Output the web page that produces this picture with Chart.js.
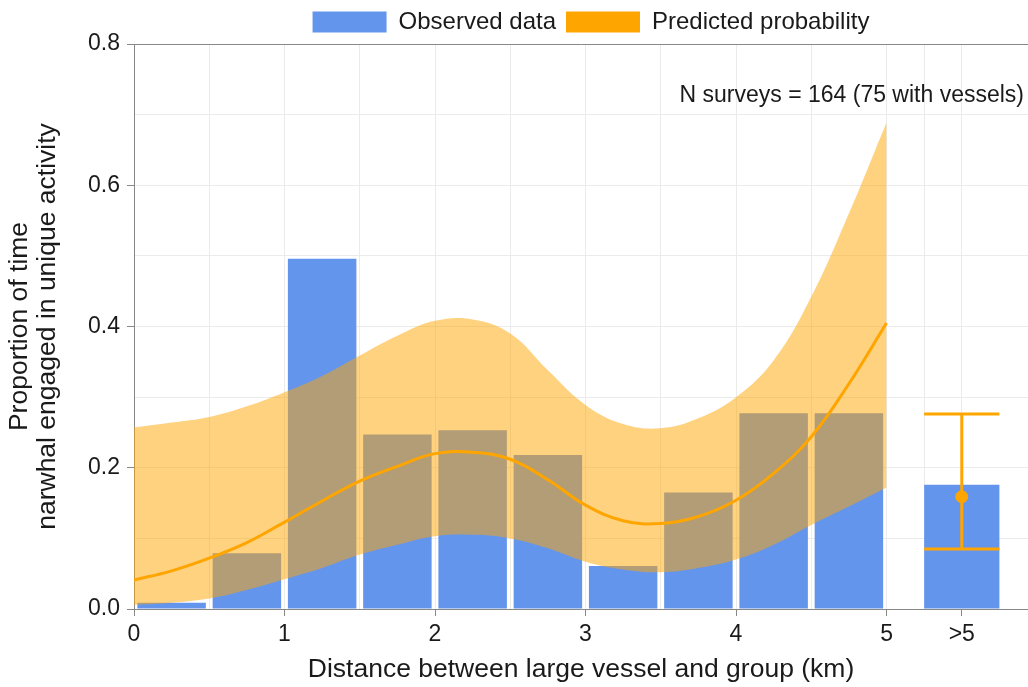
<!DOCTYPE html>
<html>
<head>
<meta charset="utf-8">
<script src="https://cdn.jsdelivr.net/npm/chart.js@4.4.1/dist/chart.umd.min.js"></script>
<style>
    html, body { margin: 0; padding: 0; background: #ffffff; overflow: hidden; }
    .chart-wrap { position: relative; width: 1028px; height: 687px; }
    canvas { display: block; }
</style>
</head>
<body>
<div class="chart-wrap"><canvas id="vesselChart"></canvas></div>
<script>
// observed proportions, 0.5 km bins
const binCenters = [0.25, 0.75, 1.25, 1.75, 2.25, 2.75, 3.25, 3.75, 4.25, 4.75];
const observed = [0.009, 0.079, 0.496, 0.247, 0.253, 0.218, 0.061, 0.165, 0.277, 0.277];

// the ">5" group
const farX = 5.5;
const farBin = [5.25, 5.75];
const farObserved = 0.176;
const farPredicted = 0.159;
const farLow = 0.085;
const farHigh = 0.276;

// model fit and confidence band
const predX = [0, 0.25, 0.5, 0.75, 1, 1.25, 1.5, 1.75, 2, 2.25, 2.5, 2.75, 3, 3.25, 3.5, 3.75, 4, 4.25, 4.5, 4.75, 5];
const predicted = [0.041, 0.054, 0.072, 0.094, 0.123, 0.153, 0.181, 0.202, 0.220, 0.222, 0.212, 0.183, 0.147, 0.125, 0.121, 0.131, 0.154, 0.192, 0.244, 0.319, 0.405];
const upperCI = [0.257, 0.264, 0.272, 0.287, 0.307, 0.330, 0.359, 0.387, 0.408, 0.410, 0.390, 0.338, 0.289, 0.262, 0.256, 0.270, 0.300, 0.352, 0.442, 0.560, 0.689];
const lowerCI = [0.006, 0.009, 0.015, 0.027, 0.042, 0.058, 0.077, 0.091, 0.103, 0.105, 0.100, 0.086, 0.067, 0.056, 0.052, 0.058, 0.070, 0.091, 0.119, 0.145, 0.172];

// axes
const xMajorTicks = [0, 1, 2, 3, 4, 5, 5.5];
const xTickLabels = ['0', '1', '2', '3', '4', '5', '>5'];
const xMinorTicks = [0.5, 1.5, 2.5, 3.5, 4.5, 5.25];
const yMajorTicks = [0, 0.2, 0.4, 0.6, 0.8];
const yMinorTicks = [0.1, 0.3, 0.5, 0.7];
const legendNames = ['Observed data', 'Predicted probability'];
const noteText = 'N surveys = 164 (75 with vessels)';

const BLUE = '#6495ED';
const ORANGE = '#FFA500';
const BAND = 'rgba(255, 165, 0, 0.5)';
const AXIS_GREY = '#888888';
const GRID_GREY = '#ebebeb';
const FONT = "'Liberation Sans', Arial, sans-serif";

const toPoints = (xs, ys) => xs.map((x, i) => ({x: x, y: ys[i]}));

const notePlugin = {
    id: 'surveyNote',
    afterLayout(chart) {
        // legend sits a little right of the plot centre in the original
        chart.legend.left += 10;
        chart.legend.right += 10;
    },
    afterDatasetsDraw(chart) {
        const ctx = chart.ctx;
        const area = chart.chartArea;
        ctx.save();
        ctx.font = '23px ' + FONT;
        ctx.fillStyle = '#1a1a1a';
        ctx.textAlign = 'right';
        ctx.textBaseline = 'alphabetic';
        ctx.fillText(noteText, area.right - 4, area.top + 58);
        ctx.restore();
    }
};

const ctx = document.getElementById('vesselChart').getContext('2d');
const chart = new Chart(ctx, {
    type: 'bar',
    data: {
        datasets: [
            {
                label: legendNames[0],
                data: toPoints(binCenters, observed),
                backgroundColor: BLUE,
                borderWidth: 0,
                // bar ruler uses the 0.25 tick spacing (5 / 5.25 / 5.5), so double it
                barPercentage: 0.91,
                categoryPercentage: 2,
                grouped: false,
                order: 10
            },
            {
                label: '>5',
                data: [{x: farX, y: farObserved}],
                backgroundColor: BLUE,
                borderWidth: 0,
                barPercentage: 1,
                categoryPercentage: 2,
                grouped: false,
                order: 10
            },
            {
                type: 'line',
                label: 'upper',
                data: toPoints(predX, upperCI),
                borderWidth: 0,
                borderColor: 'rgba(0,0,0,0)',
                backgroundColor: BAND,
                pointRadius: 0,
                tension: 0.4,
                fill: '+1',
                order: 5
            },
            {
                type: 'line',
                label: 'lower',
                data: toPoints(predX, lowerCI),
                borderWidth: 0,
                borderColor: 'rgba(0,0,0,0)',
                pointRadius: 0,
                tension: 0.4,
                fill: false,
                order: 5
            },
            {
                type: 'line',
                label: legendNames[1],
                data: toPoints(predX, predicted),
                borderColor: ORANGE,
                backgroundColor: ORANGE,
                borderWidth: 3,
                pointRadius: 0,
                tension: 0.4,
                fill: false,
                order: 1
            },
            {
                type: 'line',
                label: 'whisker',
                data: [{x: farX, y: farLow}, {x: farX, y: farHigh}],
                borderColor: ORANGE,
                borderWidth: 3,
                pointRadius: 0,
                fill: false,
                order: 0
            },
            {
                type: 'line',
                label: 'capHigh',
                data: [{x: farBin[0], y: farHigh}, {x: farBin[1], y: farHigh}],
                borderColor: ORANGE,
                borderWidth: 3,
                pointRadius: 0,
                fill: false,
                order: 0
            },
            {
                type: 'line',
                label: 'capLow',
                data: [{x: farBin[0], y: farLow}, {x: farBin[1], y: farLow}],
                borderColor: ORANGE,
                borderWidth: 3,
                pointRadius: 0,
                fill: false,
                order: 0
            },
            {
                type: 'scatter',
                label: 'farPoint',
                data: [{x: farX, y: farPredicted}],
                backgroundColor: ORANGE,
                borderColor: ORANGE,
                pointRadius: 6,
                order: 0
            }
        ]
    },
    options: {
        responsive: true,
        maintainAspectRatio: false,
        animation: false,
        layout: { padding: 0, autoPadding: false },
        plugins: {
            tooltip: { enabled: false },
            legend: {
                position: 'top',
                fullSize: false,
                labels: {
                    boxWidth: 74,
                    boxHeight: 21,
                    padding: 10,
                    color: '#1a1a1a',
                    font: { size: 24, family: FONT },
                    sort: (a, b) => a.datasetIndex - b.datasetIndex,
                    generateLabels: function (chart) {
                        return Chart.defaults.plugins.legend.labels.generateLabels(chart)
                            .filter(item => legendNames.includes(item.text))
                            .map(item => Object.assign(item, {lineWidth: 0}));
                    }
                }
            }
        },
        scales: {
            x: {
                type: 'linear',
                min: 0,
                max: 5.94,
                offset: false,
                afterBuildTicks: function (scale) {
                    scale.ticks = xMajorTicks.concat(xMinorTicks)
                        .sort((a, b) => a - b)
                        .map(v => ({value: v}));
                },
                afterFit: function (scale) {
                    scale.height = 78;
                    scale.paddingLeft = 0;
                    scale.paddingRight = 0;
                },
                ticks: {
                    autoSkip: false,
                    maxRotation: 0,
                    padding: 5,
                    color: '#1a1a1a',
                    font: { size: 23, family: FONT },
                    callback: function (value) {
                        const i = xMajorTicks.indexOf(value);
                        return i >= 0 ? xTickLabels[i] : '';
                    }
                },
                grid: {
                    offset: false,
                    color: GRID_GREY,
                    lineWidth: 1,
                    tickLength: 7,
                    tickColor: c => xMajorTicks.includes(c.tick.value) ? AXIS_GREY : 'rgba(0,0,0,0)'
                },
                border: { color: AXIS_GREY, width: 1 },
                title: {
                    display: true,
                    text: 'Distance between large vessel and group (km)',
                    color: '#1a1a1a',
                    padding: { top: 0, bottom: 1 },
                    font: { size: 26.5, family: FONT }
                }
            },
            y: {
                type: 'linear',
                min: 0,
                max: 0.8,
                afterBuildTicks: function (scale) {
                    scale.ticks = yMajorTicks.concat(yMinorTicks)
                        .sort((a, b) => a - b)
                        .map(v => ({value: v}));
                },
                afterFit: function (scale) {
                    scale.width = 134;
                },
                ticks: {
                    padding: 7,
                    color: '#1a1a1a',
                    font: { size: 23, family: FONT },
                    callback: function (value) {
                        return yMajorTicks.includes(value) ? value.toFixed(1) : '';
                    }
                },
                grid: {
                    color: c => c.tick && c.tick.value === 0.8 ? AXIS_GREY : GRID_GREY,
                    lineWidth: 1,
                    tickLength: 7,
                    tickColor: c => yMajorTicks.includes(c.tick.value) ? AXIS_GREY : 'rgba(0,0,0,0)'
                },
                border: { color: AXIS_GREY, width: 1 },
                title: {
                    display: true,
                    text: ['Proportion of time', 'narwhal engaged in unique activity'],
                    color: '#1a1a1a',
                    padding: { top: 6, bottom: 0 },
                    font: { size: 26.5, family: FONT, lineHeight: 1.045 }
                }
            }
        }
    },
    plugins: [notePlugin]
});
</script>
</body>
</html>
